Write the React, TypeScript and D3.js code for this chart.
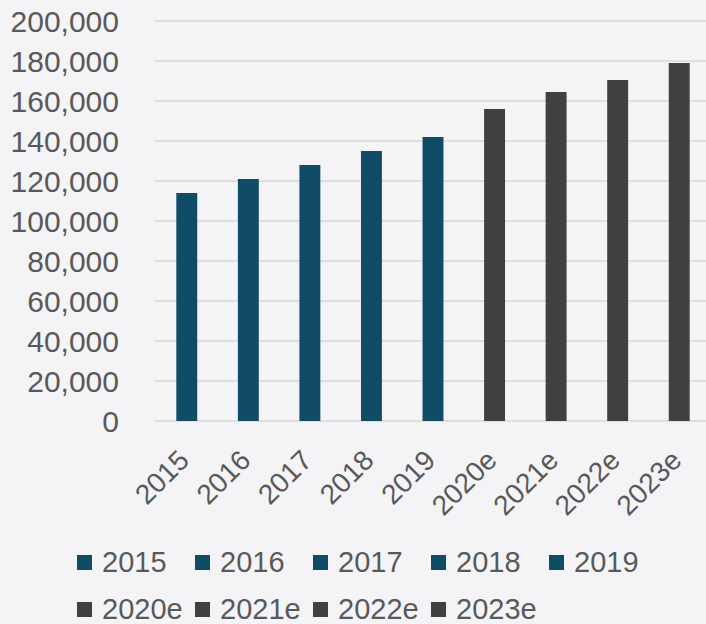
import React from 'react';
import * as d3 from 'd3';

const years = ['2015', '2016', '2017', '2018', '2019', '2020e', '2021e', '2022e', '2023e'];
const values = [114000, 121000, 128000, 135000, 142000, 156000, 164500, 170500, 179000];
const isEstimate = [false, false, false, false, false, true, true, true, true];
const yTicks = [0, 20000, 40000, 60000, 80000, 100000, 120000, 140000, 160000, 180000, 200000];

const width = 706;
const height = 624;
const margin = { top: 21, right: -4, bottom: 203, left: 156 };

const actualColor = '#104c66';
const estimateColor = '#404040';
const textColor = '#595959';
const font = '"Liberation Sans", Arial, sans-serif';

const App: React.FC = () => {
    const xScale = d3.scaleBand<string>()
        .domain(years)
        .range([margin.left, width - margin.right])
        .paddingInner(0.66)
        .paddingOuter(0.33);

    const yScale = d3.scaleLinear()
        .domain([0, 200000])
        .range([height - margin.bottom, margin.top]);

    const fmt = d3.format(',');
    const colorOf = (i: number) => (isEstimate[i] ? estimateColor : actualColor);

    // legend: 5 items in first row, rest in second
    const legendItems = years.map((y, i) => ({
        label: y,
        color: colorOf(i),
        col: i < 5 ? i : i - 5,
        row: i < 5 ? 0 : 1,
    }));

    return (
        <svg
            width={width}
            height={height}
            style={{ position: 'absolute', left: 0, top: 0, background: '#f4f4f6' }}
            fontFamily={font}
        >
            {/* gridlines */}
            {yTicks.map(t => (
                <line
                    key={t}
                    x1={margin.left - 1}
                    x2={width}
                    y1={yScale(t)}
                    y2={yScale(t)}
                    stroke="#d9d9d9"
                    strokeWidth={1.5}
                />
            ))}

            {/* y labels */}
            {yTicks.map(t => (
                <text
                    key={t}
                    x={119}
                    y={yScale(t)}
                    dy="0.36em"
                    textAnchor="end"
                    fontSize={30}
                    fill={textColor}
                >
                    {fmt(t)}
                </text>
            ))}

            {/* bars */}
            {years.map((y, i) => (
                <rect
                    key={y}
                    x={xScale(y)}
                    y={yScale(values[i])}
                    width={xScale.bandwidth()}
                    height={yScale(0) - yScale(values[i])}
                    fill={colorOf(i)}
                />
            ))}

            {/* x labels */}
            {years.map(y => {
                const cx = (xScale(y) as number) + xScale.bandwidth() / 2 + 4;
                const cy = yScale(0) + 41;
                return (
                    <text
                        key={y}
                        x={cx}
                        y={cy}
                        textAnchor="end"
                        fontSize={28}
                        fill={textColor}
                        transform={`rotate(-45, ${cx}, ${cy})`}
                    >
                        {y}
                    </text>
                );
            })}

            {/* legend */}
            {legendItems.map(d => {
                const lx = 77 + d.col * 118;
                const ly = 572 + d.row * 47;
                return (
                    <g key={d.label}>
                        <rect x={lx} y={ly - 17} width={15} height={15} fill={d.color} />
                        <text x={lx + 25} y={ly} fontSize={29} fill={textColor}>
                            {d.label}
                        </text>
                    </g>
                );
            })}
        </svg>
    );
};

export default App;
